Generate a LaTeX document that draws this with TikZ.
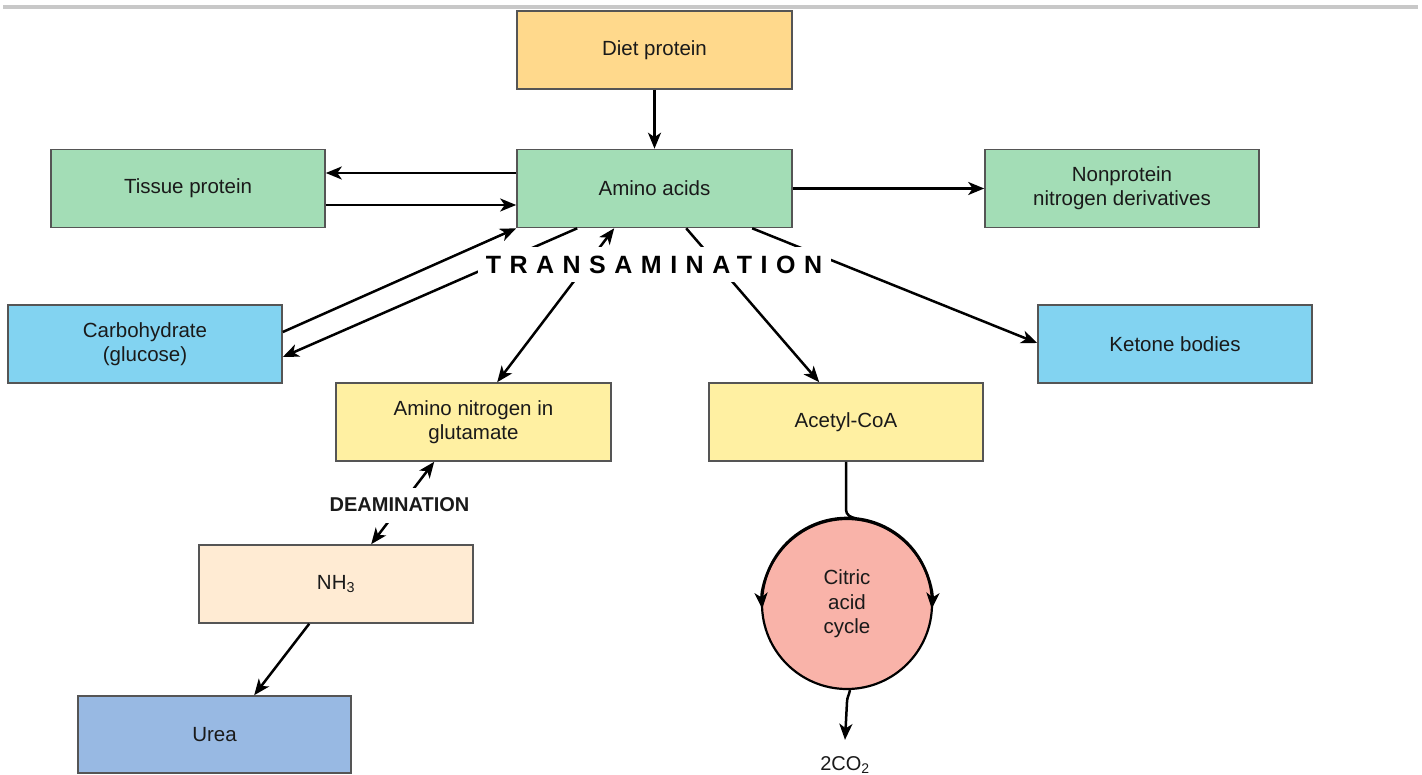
\documentclass[tikz,border=0pt]{standalone}
\usepackage{fontspec}
\setmainfont{Liberation Sans}
\usetikzlibrary{arrows.meta,calc}
\definecolor{cdiet}{HTML}{FFD98C}
\definecolor{cgreen}{HTML}{A3DDB6}
\definecolor{cblue}{HTML}{82D3F1}
\definecolor{cyel}{HTML}{FFF0A2}
\definecolor{cnh}{HTML}{FFEBD3}
\definecolor{curea}{HTML}{98B9E3}
\definecolor{ccirc}{HTML}{F9B3A9}
\definecolor{cborder}{HTML}{555555}
\definecolor{ctext}{HTML}{1A1A1A}
\definecolor{crule}{HTML}{C8C8C8}
\tikzset{
  box/.style={draw=cborder, line width=1.6pt, minimum width=275pt, minimum height=78pt,
    inner sep=0pt, align=center, text=ctext, font=\fontsize{20.5}{24}\selectfont},
  circbox/.style={circle, draw=black, line width=2.2pt, fill=ccirc, minimum size=170pt,
    inner sep=0pt, align=center, text=ctext, font=\fontsize{20.5}{24.5}\selectfont},
  conn/.style={line width=2.5pt, black},
  arr/.style={conn, -{Stealth[length=16pt,width=13pt,inset=4.5pt]}},
  darr/.style={conn, {Stealth[length=16pt,width=13pt,inset=4.5pt]}-{Stealth[length=16pt,width=13pt,inset=4.5pt]}},
  gap/.style={fill=white, inner sep=0pt, text=black}
}
\begin{document}
\begin{tikzpicture}[x=1pt,y=-1pt]
\useasboundingbox (0,0) rectangle (1422,775);
\draw[crule, line width=4pt] (3,7.5) -- (1418,7.5);

\node[box, fill=cdiet] (diet) at (654.5,50) {Diet protein};
\node[box, fill=cgreen] (amino) at (654.5,188.5) {Amino acids};
\node[box, fill=cgreen, minimum width=274pt] (tissue) at (188,188.5) {Tissue protein};
\node[box, fill=cgreen, minimum width=274pt] (nonprot) at (1122,188.5) {Nonprotein\\nitrogen derivatives};
\node[box, fill=cblue, minimum width=274pt] (carbo) at (145,344) {Carbohydrate\\(glucose)};
\node[box, fill=cblue, minimum width=274pt] (ketone) at (1175,344) {Ketone bodies};
\node[box, fill=cyel] (glut) at (473.5,422) {Amino nitrogen in\\glutamate};
\node[box, fill=cyel, minimum width=274pt] (acetyl) at (846,422) {Acetyl-CoA};
\node[box, fill=cnh, minimum width=274pt] (nh3) at (336,584) {NH\textsubscript{3}};
\node[box, fill=curea, minimum width=273pt, minimum height=77pt] (urea) at (214.5,734.5) {Urea};
\node[circbox] (cyc) at (847,604) {Citric\\acid\\cycle};
\node[anchor=base, text=ctext, font=\fontsize{20}{24}\selectfont, inner sep=2pt] (co2) at (845,770) {2CO\textsubscript{2}};

% connectors
\draw[arr] (diet.south) -- (amino.north);
\draw[arr] ([yshift=15.5pt]amino.west) -- ([yshift=15.5pt]tissue.east);
\draw[arr] ([yshift=-16.5pt]tissue.east) -- ([yshift=-16.5pt]amino.west);
\draw[arr] (amino.east) -- (nonprot.west);
\draw[arr] ([yshift=12pt]carbo.east) -- (amino.south west);
\draw[arr] ([xshift=61pt]amino.south west) -- ([yshift=-13pt]carbo.east);
\draw[darr] ([xshift=98pt]amino.south west) -- ([xshift=162pt]glut.north west);
\draw[arr] ([xshift=170pt]amino.south west) -- ([xshift=111pt]acetyl.north west);
\draw[arr] ([xshift=236pt]amino.south west) -- ([yshift=1pt]ketone.west);
\draw[darr] ([xshift=99pt]glut.south west) -- ([xshift=173pt]nh3.north west);
\draw[arr] ([xshift=111pt]nh3.south west) -- ([xshift=177pt]urea.north west);

\draw[conn] (acetyl.south) -- ++(0pt,-48pt) to[out=-90,in=170] ([xshift=9pt,yshift=-0.5pt]cyc.north);
\draw[arr] (cyc.north) arc[start angle=90, end angle=184, radius=85pt];
\draw[arr] (cyc.north) arc[start angle=90, end angle=-4, radius=85pt];
\draw[arr] ([xshift=3pt]cyc.south) to[out=-100,in=90] ([xshift=0pt,yshift=-12pt]cyc.south) -- ([yshift=14pt]co2.north);

% labels interrupting the connectors
\node[gap, minimum width=353pt, minimum height=35pt, font=\fontsize{25}{28}\selectfont\bfseries] (trans) at (654,264.5)
  {\addfontfeature{LetterSpace=34}TRANSAMINATION};
\node[gap, minimum width=150pt, minimum height=35pt, font=\fontsize{20}{24}\selectfont\bfseries, text=ctext] (deam) at (399.5,505) {DEAMINATION};
\end{tikzpicture}
\end{document}
